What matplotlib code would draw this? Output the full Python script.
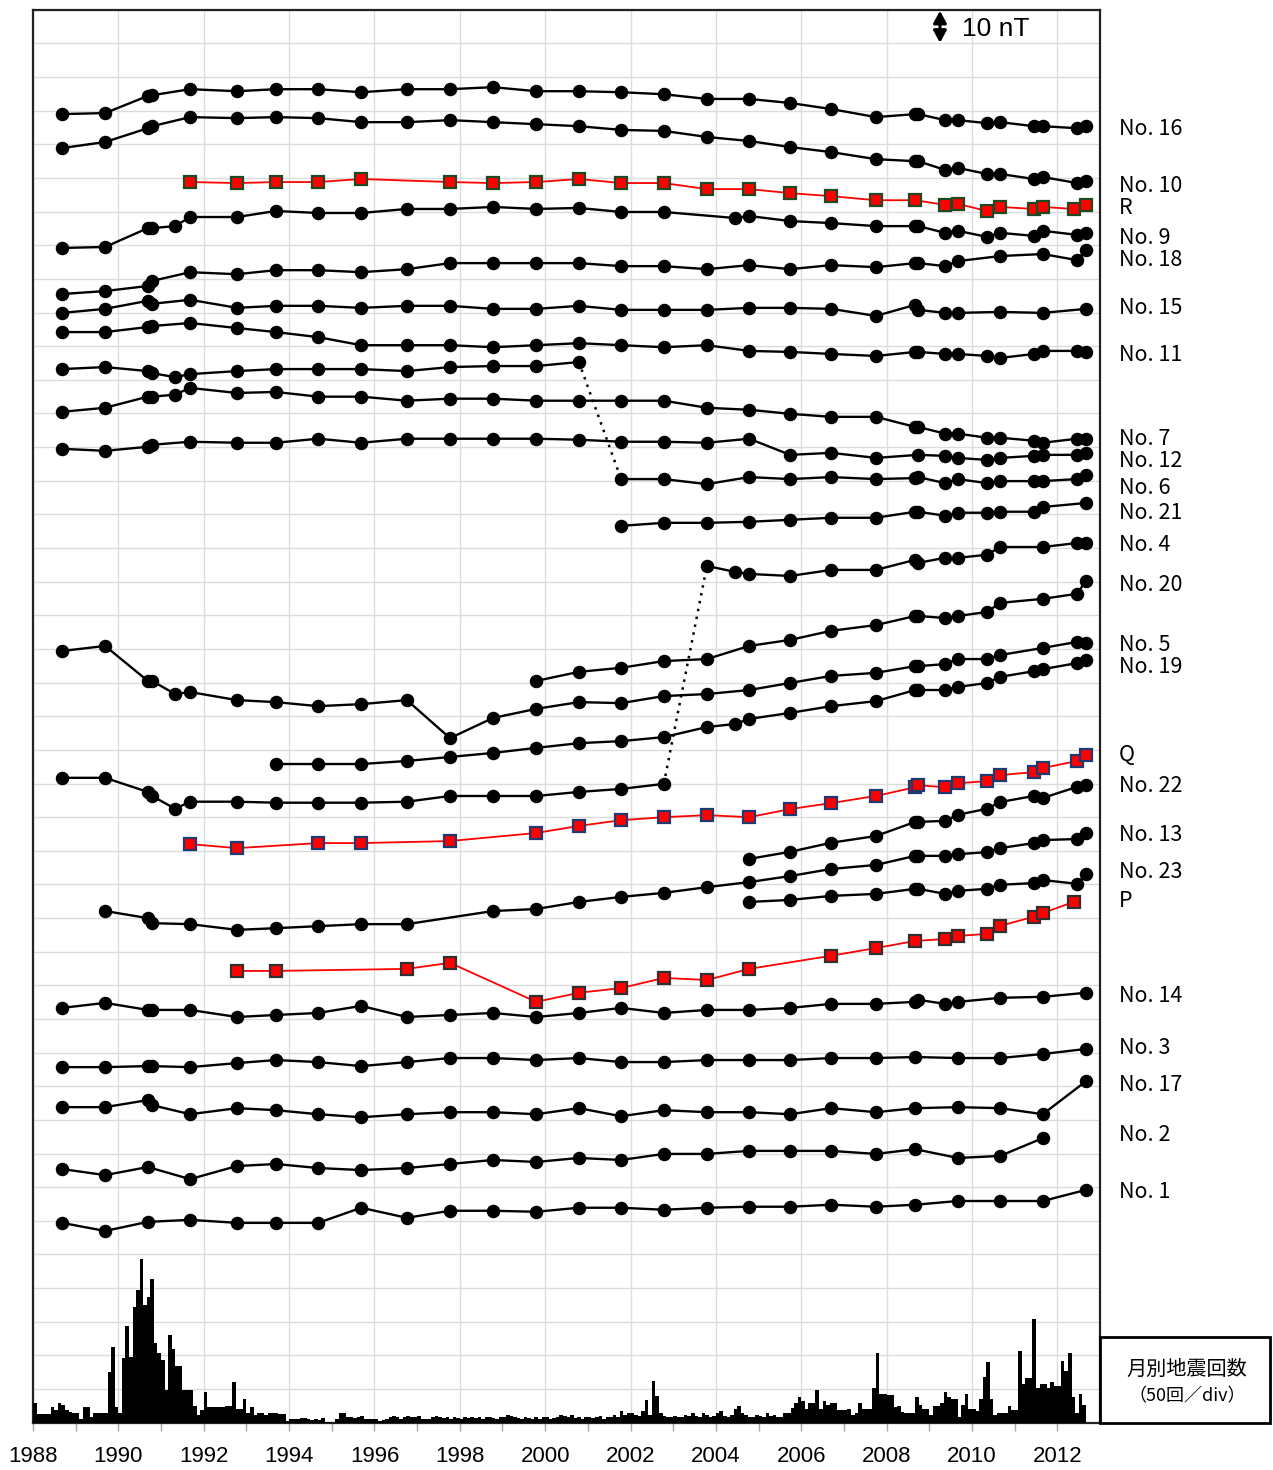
import numpy as np
import matplotlib
matplotlib.use("Agg")
import matplotlib.pyplot as plt
from matplotlib.patches import Rectangle

# ---------------- data: total-force changes (nT) at each survey epoch ----------------
T31 = [1988.68, 1989.69, 1990.69, 1990.79, 1991.68, 1992.78, 1993.69, 1994.68, 1995.69, 1996.76,
       1997.77, 1998.78, 1999.79, 2000.79, 2001.78, 2002.78, 2003.79, 2004.78, 2005.74, 2006.70,
       2007.75, 2008.67, 2008.74, 2009.37, 2009.67, 2010.35, 2010.66, 2011.45, 2011.66, 2012.46, 2012.67]

no16_t = T31
no16_dF = [0, 0.3, 5.4, 5.6, 7.4, 6.8, 7.4, 7.4, 6.5, 7.4, 7.4, 8.0, 6.8, 6.8, 6.5, 5.9, 4.5, 4.5, 3.3, 1.5,
           -0.9, 0, 0, -1.8, -1.8, -2.7, -2.4, -3.6, -3.6, -4.2, -3.6]

no10_t = T31
no10_dF = [0, 1.8, 5.9, 6.5, 9.2, 8.9, 9.2, 8.9, 7.7, 7.7, 8.3, 7.7, 7.1, 6.5, 5.4, 5.1, 3.3, 2.1, 0.3, -1.2,
           -3.3, -3.9, -3.9, -6.5, -5.9, -7.7, -7.7, -9.2, -8.6, -10.4, -9.8]

R_t = [1991.68, 1992.78, 1993.69, 1994.68, 1995.69, 1997.77, 1998.78, 1999.79, 2000.79, 2001.78, 2002.78,
       2003.79, 2004.78, 2005.74, 2006.70, 2007.75, 2008.67, 2009.37, 2009.67, 2010.35, 2010.66, 2011.45,
       2011.66, 2012.38, 2012.67]
R_dF = [0, -0.3, 0, 0, 0.9, 0, -0.3, 0, 0.9, -0.3, -0.3, -2.1, -2.1, -3.3, -4.2, -5.4, -5.4, -6.8, -6.5,
        -8.6, -7.4, -8.0, -7.4, -8.0, -6.8]

no9_t = [1988.68, 1989.69, 1990.69, 1990.79, 1991.33, 1991.68, 1992.78, 1993.69, 1994.68, 1995.69, 1996.76,
         1997.77, 1998.78, 1999.79, 2000.79, 2001.78, 2002.78, 2004.45, 2004.78, 2005.74, 2006.70, 2007.75,
         2008.67, 2008.74, 2009.37, 2009.67, 2010.35, 2010.66, 2011.45, 2011.66, 2012.46, 2012.67]
no9_dF = [0, 0.3, 5.9, 5.9, 6.5, 9.2, 9.2, 11.0, 10.4, 10.4, 11.6, 11.6, 12.2, 11.6, 11.9, 10.7, 10.7, 8.9,
          9.5, 8.0, 7.4, 6.5, 6.5, 6.5, 4.5, 5.1, 3.3, 4.5, 3.6, 5.1, 3.9, 4.5]

no18_t = [1988.68, 1989.69, 1990.69, 1990.79, 1991.68, 1992.78, 1993.69, 1994.68, 1995.69, 1996.76, 1997.77,
          1998.78, 1999.79, 2000.79, 2001.78, 2002.78, 2003.79, 2004.78, 2005.74, 2006.70, 2007.75, 2008.67,
          2008.74, 2009.37, 2009.67, 2010.66, 2011.66, 2012.46, 2012.67]
no18_dF = [0, 0.9, 2.4, 3.9, 6.5, 5.9, 7.1, 7.1, 6.5, 7.4, 9.2, 9.2, 9.2, 9.2, 8.3, 8.3, 7.4, 8.6, 7.4, 8.6,
           8.0, 9.2, 9.2, 8.3, 9.8, 11.3, 11.9, 10.1, 13.1]

no15_t = [1988.68, 1989.69, 1990.69, 1990.79, 1991.68, 1992.78, 1993.69, 1994.68, 1995.69, 1996.76, 1997.77,
          1998.78, 1999.79, 2000.79, 2001.78, 2002.78, 2003.79, 2004.78, 2005.74, 2006.70, 2007.75, 2008.67,
          2008.74, 2009.37, 2009.67, 2010.66, 2011.66, 2012.67]
no15_dF = [0, 1.2, 3.6, 2.7, 3.9, 1.5, 2.1, 2.1, 1.5, 2.1, 2.1, 1.2, 1.2, 2.1, 0.9, 0.9, 0.9, 1.5, 1.5, 1.2,
           -0.9, 2.4, 0.9, 0, 0, 0.3, 0, 1.2]

no11_t = T31
no11_dF = [0, 0, 1.5, 1.8, 2.7, 1.2, 0, -1.5, -3.9, -3.9, -3.9, -4.5, -3.9, -3.3, -3.9, -4.5, -3.9, -5.6,
           -5.9, -6.5, -7.1, -5.9, -5.9, -6.5, -6.5, -7.1, -7.7, -6.5, -5.6, -5.6, -5.9]

no6a_t = [1988.68, 1989.69, 1990.69, 1990.79, 1991.33, 1991.68, 1992.78, 1993.69, 1994.68, 1995.69, 1996.76,
          1997.77, 1998.78, 1999.79, 2000.79]
no6a_dF = [0, 0.6, -0.6, -1.2, -2.4, -1.5, -0.6, 0, 0, 0, -0.6, 0.6, 0.9, 0.9, 2.1]
no6b_t = [2001.78, 2002.78, 2003.79, 2004.78, 2005.74, 2006.70, 2007.75, 2008.67, 2008.74, 2009.37, 2009.67,
          2010.35, 2010.66, 2011.45, 2011.66, 2012.46, 2012.67]
no6b_dF = [0, 0, -1.5, 0.6, 0, 0.6, 0, 0.3, 0.6, -1.2, 0, -1.2, -0.6, -0.6, -0.6, 0, 1.2]

no7_t = [1988.68, 1989.69, 1990.69, 1990.79, 1991.33, 1991.68, 1992.78, 1993.69, 1994.68, 1995.69, 1996.76,
         1997.77, 1998.78, 1999.79, 2000.79, 2001.78, 2002.78, 2003.79, 2004.78, 2005.74, 2006.70, 2007.75,
         2008.67, 2008.74, 2009.37, 2009.67, 2010.35, 2010.66, 2011.45, 2011.66, 2012.46, 2012.67]
no7_dF = [0, 1.2, 4.5, 4.5, 5.1, 7.1, 5.6, 5.9, 4.5, 4.5, 3.3, 3.9, 3.9, 3.3, 3.3, 3.3, 3.3, 1.2, 0.6, -0.6,
          -1.5, -1.5, -4.5, -4.5, -6.5, -6.5, -7.7, -7.7, -8.6, -9.2, -8.0, -8.0]

no12_t = [1988.68, 1989.69, 1990.69, 1990.79, 1991.68, 1992.78, 1993.69, 1994.68, 1995.69, 1996.76, 1997.77,
          1998.78, 1999.79, 2000.79, 2001.78, 2002.78, 2003.79, 2004.78, 2005.74, 2006.70, 2007.75, 2008.74,
          2009.37, 2009.67, 2010.35, 2010.66, 2011.45, 2011.66, 2012.46, 2012.67]
no12_dF = [0, -0.6, 0.6, 1.2, 2.1, 1.8, 1.8, 3.0, 1.8, 3.0, 3.0, 3.0, 3.0, 2.7, 2.1, 2.1, 1.8, 3.0, -1.8,
           -1.2, -2.7, -1.8, -2.1, -2.7, -3.3, -2.7, -2.1, -1.8, -1.8, -1.2]

no21_t = [2001.78, 2002.78, 2003.79, 2004.78, 2005.74, 2006.70, 2007.75, 2008.67, 2008.74, 2009.37, 2009.67,
          2010.35, 2010.66, 2011.45, 2011.66, 2012.67]
no21_dF = [0, 0.9, 0.9, 1.2, 1.8, 2.4, 2.4, 4.2, 4.2, 3.0, 3.9, 3.9, 4.2, 4.2, 5.6, 6.8]

no4a_t = [1988.68, 1989.69, 1990.69, 1990.79, 1991.33, 1991.68, 1992.78, 1993.69, 1994.68, 1995.69, 1996.76,
          1997.77, 1998.78, 1999.79, 2000.79, 2001.78, 2002.78]
no4a_dF = [0, 0, -4.2, -5.4, -9.2, -7.1, -7.1, -7.4, -7.4, -7.4, -7.1, -5.4, -5.4, -5.4, -4.2, -3.3, -1.8]
no4b_t = [2003.79, 2004.45, 2004.78, 2005.74, 2006.70, 2007.75, 2008.67, 2008.74, 2009.37, 2009.67, 2010.35,
          2010.66, 2011.66, 2012.46, 2012.67]
no4b_dF = [0, -1.8, -2.4, -3.0, -1.2, -1.2, 1.8, 0.9, 2.4, 2.4, 3.3, 5.6, 5.6, 6.8, 6.8]

no20_t = [1999.79, 2000.79, 2001.78, 2002.78, 2003.79, 2004.78, 2005.74, 2006.70, 2007.75, 2008.67, 2008.74,
          2009.37, 2009.67, 2010.35, 2010.66, 2011.66, 2012.46, 2012.67]
no20_dF = [0, 2.7, 3.9, 5.9, 6.5, 10.4, 12.2, 14.9, 16.6, 19.3, 19.3, 18.7, 19.3, 20.5, 23.2, 24.4, 25.9, 29.7]

no5_t = [1988.68, 1989.69, 1990.69, 1990.79, 1991.33, 1991.68, 1992.78, 1993.69, 1994.68, 1995.69, 1996.76,
         1997.77, 1998.78, 1999.79, 2000.79, 2001.78, 2002.78, 2003.79, 2004.78, 2005.74, 2006.70, 2007.75,
         2008.67, 2008.74, 2009.37, 2009.67, 2010.35, 2010.66, 2011.66, 2012.46, 2012.67]
no5_dF = [0, 1.5, -8.9, -8.9, -12.8, -12.2, -14.6, -15.2, -16.4, -15.8, -14.6, -25.9, -19.9, -17.2, -15.2,
          -15.5, -13.4, -12.8, -11.6, -9.5, -7.4, -6.5, -4.5, -4.5, -3.9, -2.4, -2.4, -1.2, 0.9, 2.7, 2.4]

no19_t = [1993.69, 1994.68, 1995.69, 1996.76, 1997.77, 1998.78, 1999.79, 2000.79, 2001.78, 2002.78, 2003.79,
          2004.45, 2004.78, 2005.74, 2006.70, 2007.75, 2008.67, 2008.74, 2009.37, 2009.67, 2010.35, 2010.66,
          2011.45, 2011.66, 2012.46, 2012.67]
no19_dF = [0, 0, 0, 0.9, 2.1, 3.3, 4.8, 6.2, 6.8, 8.0, 11.0, 11.9, 13.4, 15.2, 17.2, 18.7, 22.0, 22.0, 22.0,
           22.9, 24.1, 25.9, 27.6, 28.2, 30.0, 30.9]

Q_t = [1991.68, 1992.78, 1994.68, 1995.69, 1997.77, 1999.79, 2000.79, 2001.78, 2002.78, 2003.79, 2004.78,
       2005.74, 2006.70, 2007.75, 2008.67, 2008.74, 2009.37, 2009.67, 2010.35, 2010.66, 2011.45, 2011.66,
       2012.46, 2012.67]
Q_dF = [0, -1.2, 0.3, 0.3, 0.9, 3.3, 5.4, 7.1, 8.0, 8.6, 8.0, 10.4, 12.2, 14.3, 16.9, 17.5, 16.9, 18.1,
        18.7, 20.5, 21.4, 22.6, 24.7, 26.5]

T14 = [2004.78, 2005.74, 2006.70, 2007.75, 2008.67, 2008.74, 2009.37, 2009.67, 2010.35, 2010.66, 2011.45,
       2011.66, 2012.46, 2012.67]
no22_t = T14
no22_dF = [0, 2.1, 4.8, 6.8, 11.0, 11.0, 11.3, 13.1, 14.9, 16.9, 18.7, 18.1, 21.4, 22.0]

no13_t = [1989.69, 1990.69, 1990.79, 1991.68, 1992.78, 1993.69, 1994.68, 1995.69, 1996.76, 1998.78, 1999.79,
          2000.79, 2001.78, 2002.78, 2003.79, 2004.78, 2005.74, 2006.70, 2007.75, 2008.67, 2008.74, 2009.37,
          2009.67, 2010.35, 2010.66, 2011.45, 2011.66, 2012.46, 2012.67]
no13_dF = [0, -2.1, -3.6, -3.9, -5.6, -5.1, -4.5, -3.9, -3.9, 0, 0.6, 2.7, 4.2, 5.4, 7.1, 8.6, 10.4, 12.5,
           13.7, 16.4, 16.4, 16.4, 16.9, 17.5, 18.7, 20.2, 21.1, 21.4, 23.2]

no23_t = T14
no23_dF = [0, 0.6, 1.8, 2.4, 3.9, 3.9, 2.4, 3.3, 3.9, 5.1, 5.6, 6.5, 5.4, 8.3]

P_t = [1992.78, 1993.69, 1996.76, 1997.77, 1999.79, 2000.79, 2001.78, 2002.78, 2003.79, 2004.78, 2006.70,
       2007.75, 2008.67, 2009.37, 2009.67, 2010.35, 2010.66, 2011.45, 2011.66, 2012.38]
P_dF = [0, 0, 0.6, 2.4, -9.2, -6.5, -5.1, -2.1, -2.7, 0.6, 4.5, 6.8, 8.9, 9.5, 10.4, 11.0, 13.4, 16.1,
        17.2, 20.5]

no14_t = [1988.68, 1989.69, 1990.69, 1990.79, 1991.68, 1992.78, 1993.69, 1994.68, 1995.69, 1996.76, 1997.77,
          1998.78, 1999.79, 2000.79, 2001.78, 2002.78, 2003.79, 2004.78, 2005.74, 2006.70, 2007.75, 2008.67,
          2008.74, 2009.37, 2009.67, 2010.66, 2011.66, 2012.67]
no14_dF = [0, 1.5, -0.6, -0.6, -0.6, -2.7, -2.1, -1.5, 0.6, -2.7, -2.1, -1.5, -2.7, -1.5, 0, -1.5, -0.6,
           -0.6, 0, 1.2, 1.2, 1.8, 2.4, 1.2, 1.8, 3.0, 3.3, 4.5]

T26 = [1988.68, 1989.69, 1990.69, 1990.79, 1991.68, 1992.78, 1993.69, 1994.68, 1995.69, 1996.76, 1997.77,
       1998.78, 1999.79, 2000.79, 2001.78, 2002.78, 2003.79, 2004.78, 2005.74, 2006.70, 2007.75, 2008.67,
       2009.67, 2010.66, 2011.66, 2012.67]
no3_t = T26
no3_dF = [0, 0, 0.3, 0.3, 0, 1.2, 2.1, 1.5, 0.3, 1.5, 2.7, 2.7, 2.1, 2.7, 1.5, 1.5, 2.1, 2.1, 2.1, 2.7, 2.7,
          3.0, 2.7, 2.7, 3.9, 5.4]
no17_t = T26
no17_dF = [0, 0, 2.1, 0.6, -2.1, -0.3, -0.9, -2.1, -3.0, -2.1, -1.5, -1.5, -2.1, -0.3, -2.7, -0.9, -1.5,
           -1.5, -2.1, -0.3, -1.5, -0.3, 0, -0.3, -2.1, 7.7]

no2_t = [1988.68, 1989.69, 1990.69, 1991.68, 1992.78, 1993.69, 1994.68, 1995.69, 1996.76, 1997.77, 1998.78,
         1999.79, 2000.79, 2001.78, 2002.78, 2003.79, 2004.78, 2005.74, 2006.70, 2007.75, 2008.67, 2009.67,
         2010.66, 2011.66]
no2_dF = [0, -1.8, 0.6, -3.0, 0.9, 1.5, 0.3, -0.3, 0.3, 1.5, 2.7, 2.1, 3.3, 2.7, 4.5, 4.5, 5.4, 5.4, 5.4,
          4.5, 5.9, 3.3, 3.9, 9.2]
no1_t = no2_t + [2012.67]
no1_dF = [0, -2.4, 0.3, 0.9, 0, 0, 0, 4.5, 1.5, 3.6, 3.6, 3.3, 4.5, 4.5, 3.9, 4.5, 4.8, 4.8, 5.4, 4.8,
          5.4, 6.5, 6.5, 6.5, 9.8]

# monthly earthquake counts, Jan 1988 .. Dec 2012 (12 values per row)
monthly_quakes = [
    29, 13, 13, 13, 13, 24, 19, 29, 26, 19, 16, 15,       # 1988
    15, 5, 24, 24, 9, 15, 15, 15, 14, 76, 112, 24,        # 1989
    15, 96, 143, 98, 172, 197, 244, 175, 187, 214, 118, 104,  # 1990
    93, 49, 131, 109, 85, 85, 49, 49, 49, 25, 11, 19,     # 1991
    46, 24, 24, 24, 24, 24, 25, 25, 60, 21, 21, 35,       # 1992
    14, 24, 11, 14, 14, 11, 15, 15, 15, 13, 13, 2,        # 1993
    5, 5, 5, 7, 7, 5, 4, 5, 4, 7, 1, 1,                   # 1994
    0, 5, 15, 15, 9, 9, 7, 9, 10, 5, 5, 5,                # 1995
    5, 2, 4, 6, 9, 10, 9, 6, 9, 10, 9, 9,                 # 1996
    10, 6, 6, 6, 9, 10, 8, 7, 9, 6, 8, 7,                 # 1997
    6, 8, 7, 9, 7, 8, 6, 9, 8, 7, 6, 8,                   # 1998
    9, 12, 10, 8, 7, 6, 9, 7, 6, 8, 5, 9,                 # 1999
    8, 6, 7, 9, 12, 10, 8, 11, 7, 9, 6, 8,                # 2000
    9, 7, 8, 10, 6, 9, 8, 12, 9, 18, 11, 15,              # 2001
    14, 12, 10, 18, 33, 12, 62, 40, 15, 10, 8, 9,         # 2002
    10, 8, 9, 12, 10, 14, 10, 9, 15, 12, 8, 10,           # 2003
    14, 18, 10, 9, 12, 20, 25, 15, 11, 9, 8, 12,          # 2004
    10, 9, 15, 10, 12, 9, 8, 15, 14, 22, 30, 38,          # 2005
    32, 21, 30, 30, 49, 21, 32, 27, 29, 29, 19, 19,       # 2006
    19, 21, 11, 15, 30, 21, 21, 21, 52, 104, 43, 43,      # 2007
    41, 41, 24, 25, 16, 15, 15, 15, 38, 27, 20, 21,       # 2008
    11, 25, 25, 30, 46, 38, 35, 35, 9, 27, 43, 21,        # 2009
    21, 17, 35, 68, 90, 35, 11, 14, 14, 14, 25, 19,       # 2010
    19, 107, 57, 66, 66, 154, 52, 57, 57, 51, 60, 55,     # 2011
    55, 91, 77, 104, 38, 15, 43, 27, 0, 0, 0, 0,          # 2012
]

# ---------------- layout: vertical stacking level (nT) of each profile, label levels ----------------
offsets = {"No. 16": 389.0, "No. 10": 378.9, "R": 368.8, "No. 9": 349.2, "No. 18": 335.5,
           "No. 15": 329.9, "No. 11": 324.2, "No. 6a": 313.2, "No. 6b": 280.5, "No. 7": 300.5,
           "No. 12": 289.5, "No. 21": 266.6, "No. 4b": 254.7, "No. 4a": 191.7, "No. 20": 220.5,
           "No. 5": 229.4, "No. 19": 195.8, "Q": 172.0, "No. 22": 167.6, "No. 13": 152.1,
           "No. 23": 154.8, "P": 134.3, "No. 14": 123.3, "No. 3": 105.7, "No. 17": 93.8,
           "No. 2": 75.4, "No. 1": 59.4}

labels = ["No. 16", "No. 10", "R", "No. 9", "No. 18", "No. 15", "No. 11", "No. 7", "No. 12", "No. 6",
          "No. 21", "No. 4", "No. 20", "No. 5", "No. 19", "Q", "No. 22", "No. 13", "No. 23", "P",
          "No. 14", "No. 3", "No. 17", "No. 2", "No. 1"]
label_levels = [384.6, 367.6, 361.1, 352.2, 345.6, 331.4, 317.4, 292.4, 285.9, 277.9,
                270.4, 260.9, 249.0, 231.2, 224.6, 198.5, 189.3, 174.7, 163.7, 155.1,
                126.8, 111.4, 100.4, 85.5, 68.6]

series = [
    ("No. 16", no16_t, no16_dF, "k"), ("No. 10", no10_t, no10_dF, "k"), ("R", R_t, R_dF, "R"),
    ("No. 9", no9_t, no9_dF, "k"), ("No. 18", no18_t, no18_dF, "k"), ("No. 15", no15_t, no15_dF, "k"),
    ("No. 11", no11_t, no11_dF, "k"), ("No. 6a", no6a_t, no6a_dF, "k"), ("No. 6b", no6b_t, no6b_dF, "k"),
    ("No. 7", no7_t, no7_dF, "k"), ("No. 12", no12_t, no12_dF, "k"), ("No. 21", no21_t, no21_dF, "k"),
    ("No. 4a", no4a_t, no4a_dF, "k"), ("No. 4b", no4b_t, no4b_dF, "k"), ("No. 20", no20_t, no20_dF, "k"),
    ("No. 5", no5_t, no5_dF, "k"), ("No. 19", no19_t, no19_dF, "k"), ("Q", Q_t, Q_dF, "Q"),
    ("No. 22", no22_t, no22_dF, "k"), ("No. 13", no13_t, no13_dF, "k"), ("No. 23", no23_t, no23_dF, "k"),
    ("P", P_t, P_dF, "P"), ("No. 14", no14_t, no14_dF, "k"), ("No. 3", no3_t, no3_dF, "k"),
    ("No. 17", no17_t, no17_dF, "k"), ("No. 2", no2_t, no2_dF, "k"), ("No. 1", no1_t, no1_dF, "k"),
]
relocations = [("No. 6a", "No. 6b"), ("No. 4a", "No. 4b")]

square_edge = {"R": "#1d4a24", "Q": "#1f3a70", "P": "#303030"}

# ---------------- drawing ----------------
W, H = 1273, 1470
fig = plt.figure(figsize=(W / 100, H / 100), dpi=100)
ax = fig.add_axes([33 / W, 1 - 1422.7 / H, (1100 - 33) / W, (1422.7 - 9.8) / H])
ax.set_xlim(1988, 2013)
ax.set_ylim(0, 420)

ax.set_yticks(np.arange(0, 421, 10))
ax.set_xticks(np.arange(1988, 2013, 2))
ax.set_xticks(np.arange(1989, 2013, 2), minor=True)
ax.grid(True, which="major", color="#dcdcdc", lw=1.0, zorder=0)
ax.tick_params(axis="y", length=0, labelleft=False)
ax.tick_params(axis="x", which="both", direction="out", length=6, color="#a8a8a8", width=1,
               labelsize=16, pad=11)
for lab in ax.get_xticklabels():
    lab.set_fontfamily(["Liberation Sans", "DejaVu Sans"])
for s in ax.spines.values():
    s.set_linewidth(1.6)
    s.set_color("#222222")
    s.set_zorder(10)

data = {}
for name, t, dF, kind in series:
    y = offsets[name] + np.asarray(dF)
    data[name] = (np.asarray(t), y)
    if kind == "k":
        ax.plot(t, y, color="black", lw=1.7, marker="o", ms=8.7, mfc="black", mec="black",
                zorder=4, clip_on=False)
    else:
        ax.plot(t, y, color="#ff0000", lw=1.3, marker="s", ms=8, mfc="#ff0000",
                mec=square_edge[kind], mew=1.6, zorder=4, clip_on=False)

for a, b in relocations:
    ta, ya = data[a]
    tb, yb = data[b]
    ax.plot([ta[-1], tb[0]], [ya[-1], yb[0]], color="black", lw=1.8, ls=(0, (1.0, 2.2)), zorder=3)

label_font = ["Noto Sans CJK JP", "DejaVu Sans"]
for lab, lvl in zip(labels, label_levels):
    ax.text(2013.45, lvl, lab, fontsize=15.5, family=label_font, va="center", ha="left", clip_on=False)

# 10 nT scale bar
ax.annotate("", xy=(2009.25, 419.7), xytext=(2009.25, 410.2),
            arrowprops=dict(arrowstyle="<|-|>,head_length=0.55,head_width=0.3", color="black",
                            lw=2.2, mutation_scale=13, shrinkA=0, shrinkB=0))
ax.text(2009.77, 414.4, "10 nT", fontsize=19, family=["Liberation Sans", "DejaVu Sans"],
        va="center", ha="left")

# monthly earthquake histogram (50 per division)
ax2 = ax.twinx()
ax2.set_ylim(0, 42 * 50)
months = 1988 + np.arange(len(monthly_quakes)) / 12.0
ax2.bar(months, monthly_quakes, width=1 / 12.0, align="edge", color="black", lw=0, zorder=2)
ax2.set_yticks([])
for s in ax2.spines.values():
    s.set_visible(False)
ax2.set_xlim(1988, 2013)

# legend box for histogram
fig.patches.append(Rectangle((1100 / W, 1 - 1422.7 / H), 170 / W, 85.7 / H, transform=fig.transFigure,
                             fill=False, lw=2.0, edgecolor="black", zorder=5))
fig.text(1187 / W, 1 - 1369 / H, "月別地震回数", fontsize=14.5, family=label_font,
         ha="center", va="center")
fig.text(1187 / W, 1 - 1396 / H, "（50回／div）", fontsize=13, family=label_font,
         ha="center", va="center")

fig.savefig("out.png", dpi=100)
